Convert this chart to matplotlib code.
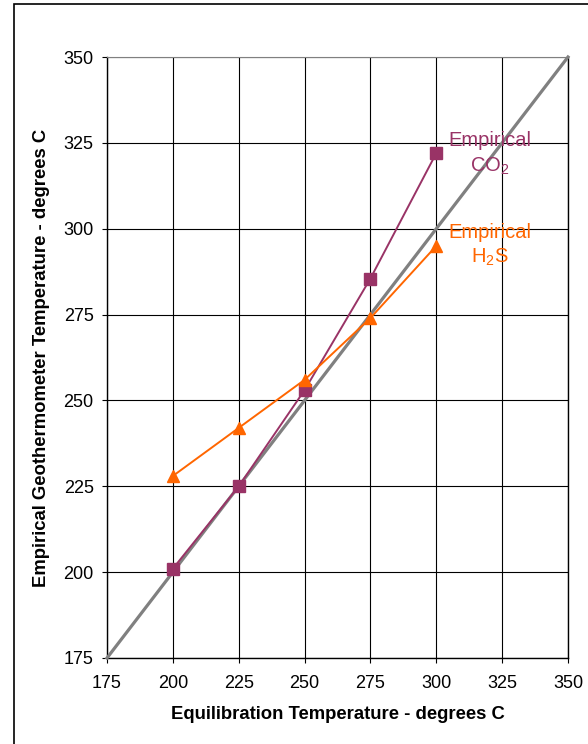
import matplotlib
matplotlib.use("Agg")
import matplotlib.pyplot as plt
from matplotlib.patches import Rectangle

plt.rcParams['font.family'] = ['Liberation Sans', 'DejaVu Sans']
plt.rcParams['mathtext.fontset'] = 'custom'
plt.rcParams['mathtext.rm'] = 'Liberation Sans'
plt.rcParams['mathtext.it'] = 'Liberation Sans:italic'
plt.rcParams['mathtext.bf'] = 'Liberation Sans:bold'

# equilibration temperature vs empirical geothermometer results
equil_temp = [200, 225, 250, 275, 300]
co2_temp = [201, 225, 253, 285.5, 322]
h2s_temp = [228, 242, 256, 274, 295]
one_to_one = [175, 350]
ticks = [175, 200, 225, 250, 275, 300, 325, 350]

purple = '#993366'
orange = '#FF6600'

fig = plt.figure(figsize=(5.88, 7.44), dpi=100)
ax = fig.add_axes([107 / 588, 1 - 658 / 744, 461 / 588, 601 / 744])

# outer frame of the chart area
fig.patches.append(Rectangle((14 / 588, -0.1), 1.2, 1.1 - 4 / 744, transform=fig.transFigure,
                             fill=False, edgecolor='black', linewidth=1.2))

ax.plot(one_to_one, one_to_one, color='#808080', linewidth=2.3, zorder=3, clip_on=False)
ax.plot(equil_temp, co2_temp, color=purple, linewidth=1.4, marker='s', markersize=8,
        markeredgecolor=purple, zorder=4)
ax.plot(equil_temp, h2s_temp, color=orange, linewidth=1.4, marker='^', markersize=9,
        markeredgecolor=orange, zorder=4)

ax.text(320.4, 325.8, 'Empirical', color=purple, fontsize=14.5, ha='center', va='center')
ax.text(320.4, 318.3, 'CO$_2$', color=purple, fontsize=14.5, ha='center', va='center')
ax.text(320.4, 298.8, 'Empirical', color=orange, fontsize=14.5, ha='center', va='center')
ax.text(320.4, 291.8, 'H$_2$S', color=orange, fontsize=14.5, ha='center', va='center')

ax.set_xlim(175, 350)
ax.set_ylim(175, 350)
ax.set_xticks(ticks)
ax.set_yticks(ticks)
ax.grid(True, color='black', linewidth=0.8, zorder=1)
ax.set_axisbelow(True)
ax.tick_params(direction='out', length=3.6, width=0.8, labelsize=13,
               top=False, right=False)
ax.tick_params(axis='x', pad=9)
ax.tick_params(axis='y', pad=6)
for side in ['left', 'bottom', 'right']:
    ax.spines[side].set_linewidth(1.0)
ax.spines['top'].set_color('#808080')

ax.set_xlabel('Equilibration Temperature - degrees C', fontsize=13.3, fontweight='bold', labelpad=10)
ax.set_ylabel('Empirical Geothermometer Temperature - degrees C', fontsize=13.3,
              fontweight='bold', labelpad=10)

fig.savefig('out.png', dpi=100)
